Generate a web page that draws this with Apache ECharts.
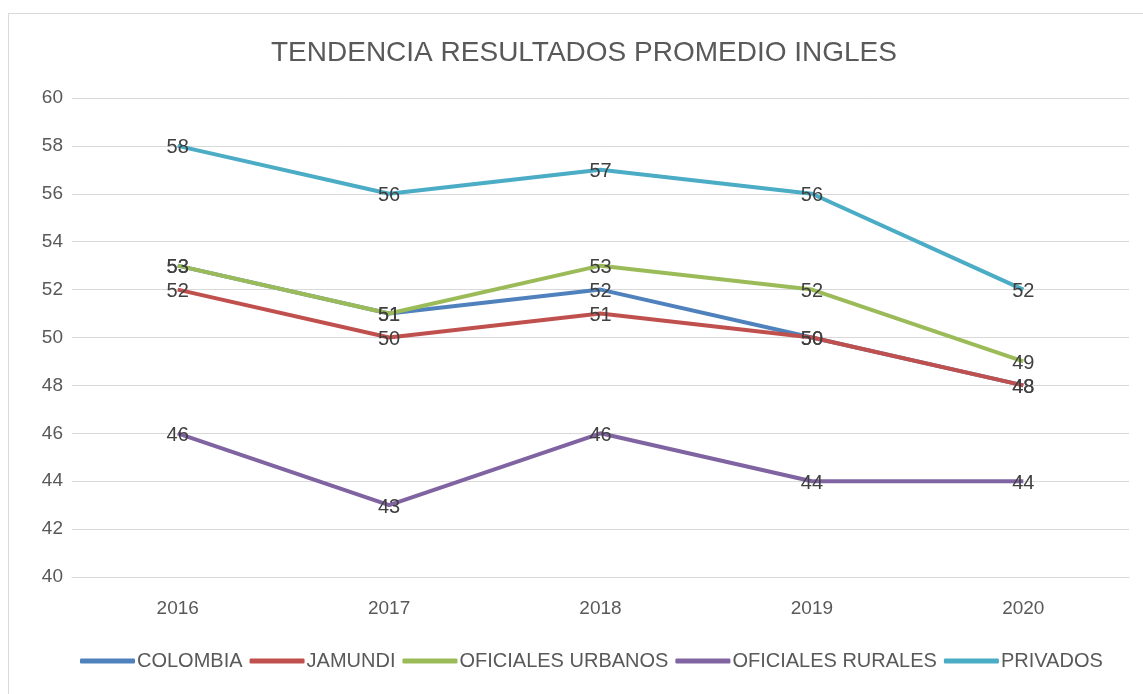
<!DOCTYPE html>
<html>
<head>
<meta charset="utf-8">
<script src="https://cdn.jsdelivr.net/npm/echarts@6/dist/echarts.min.js"></script>
<style>
    html, body{margin:0; padding:0; background:#fff;}
    #frame{position:absolute; left:8px; top:13px; width:1140px; height:690px; border:1px solid #d9d9d9; box-sizing:border-box;}
    #ChartMain{position:absolute; left:0; top:0; width:1143px; height:694px;}
</style>
</head>
<body>
<div id="frame"></div>
<div id="ChartMain"></div>
<script type="text/javascript">
    var years = ['2016', '2017', '2018', '2019', '2020'];
    var colombia = [53, 51, 52, 50, 48];
    var jamundi = [52, 50, 51, 50, 48];
    var urbanos = [53, 51, 53, 52, 49];
    var rurales = [46, 43, 46, 44, 44];
    var privados = [58, 56, 57, 56, 52];

    var names = ['COLOMBIA', 'JAMUNDI', 'OFICIALES URBANOS', 'OFICIALES RURALES', 'PRIVADOS'];
    var values = [colombia, jamundi, urbanos, rurales, privados];

    var myChart = echarts.init(document.getElementById('ChartMain'));
    var series = names.map(function (n, i) {
        return {
            name: n,
            type: 'line',
            data: values[i],
            symbol: 'circle',
            symbolSize: 0,
            showSymbol: true,
            lineStyle: {width: 4},
            label: {
                show: true,
                position: 'bottom',
                distance: -8,
                color: '#404040',
                fontSize: 20,
                fontFamily: 'Liberation Sans'
            },
            labelLayout: {hideOverlap: false}
        };
    });

    var option = {
        color: ['#4F81BD', '#C0504D', '#9BBB59', '#8064A2', '#4BACC6'],
        animation: false,
        title: {
            text: 'TENDENCIA RESULTADOS PROMEDIO INGLES',
            left: 266,
            top: 34,
            textStyle: {color: '#595959', fontSize: 28, fontWeight: 'normal', fontFamily: 'Liberation Sans'}
        },
        legend: {
            data: names,
            bottom: 18,
            left: 75,
            icon: 'roundRect',
            itemWidth: 55,
            itemHeight: 5,
            itemGap: 7,
            textStyle: {color: '#595959', fontSize: 20, fontFamily: 'Liberation Sans', padding: [0, 0, 0, -3]}
        },
        grid: {left: 72, right: 14, top: 98, bottom: 117},
        xAxis: {
            type: 'category',
            data: years,
            boundaryGap: true,
            axisLine: {lineStyle: {color: '#d9d9d9'}},
            axisTick: {show: false},
            axisLabel: {color: '#595959', fontSize: 19, margin: 22, fontFamily: 'Liberation Sans'}
        },
        yAxis: {
            type: 'value',
            min: 40,
            max: 60,
            interval: 2,
            axisLine: {show: false},
            axisTick: {show: false},
            splitLine: {lineStyle: {color: '#d9d9d9'}},
            axisLabel: {color: '#595959', fontSize: 19, margin: 9, fontFamily: 'Liberation Sans'}
        },
        series: series
    };
    myChart.setOption(option);
</script>
</body>
</html>
